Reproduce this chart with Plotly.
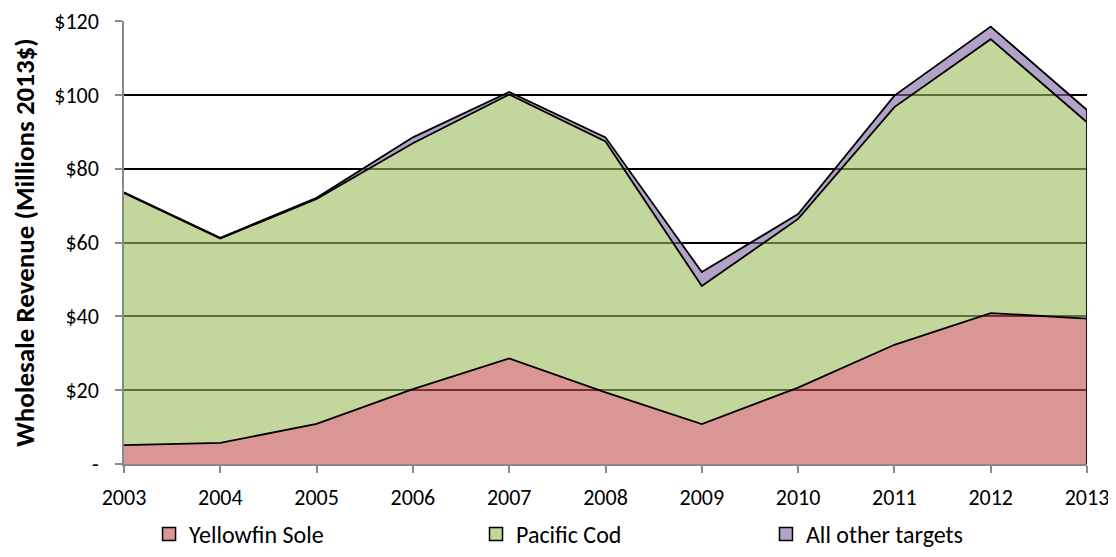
import plotly.graph_objects as go

years = [2003, 2004, 2005, 2006, 2007, 2008, 2009, 2010, 2011, 2012, 2013]
yellowfin_sole = [5.1, 5.7, 10.9, 20.3, 28.6, 19.4, 10.8, 20.7, 32.3, 40.9, 39.4]
pacific_cod = [68.3, 55.4, 60.9, 66.6, 71.5, 68.0, 37.4, 45.7, 64.4, 74.2, 53.2]
all_other = [0.2, 0.2, 0.3, 1.6, 0.7, 1.1, 3.8, 1.3, 3.1, 3.4, 3.3]

y_tickvals = [0, 20, 40, 60, 80, 100, 120]
y_ticktext = ["-", "$20", "$40", "$60", "$80", "$100", "$120"]

series = [
    ("Yellowfin Sole", yellowfin_sole, "rgba(192,80,77,0.6)", "rgb(217,150,148)", "legend"),
    ("Pacific Cod", pacific_cod, "rgba(155,187,89,0.6)", "rgb(195,214,155)", "legend2"),
    ("All other targets", all_other, "rgba(128,100,162,0.6)", "rgb(179,162,199)", "legend3"),
]

FONT = "Carlito, Calibri, Lato, sans-serif"
FS = 22

fig = go.Figure()
for name, vals, col, solid, lg in series:
    fig.add_trace(go.Scatter(
        x=years, y=vals, name=name, stackgroup="one", mode="lines",
        line=dict(color="black", width=1.8), fillcolor=col, showlegend=False,
        hoverinfo="x+y+name",
    ))

# right edge outline of the stacked area at the last year
total_last = yellowfin_sole[-1] + pacific_cod[-1] + all_other[-1]
fig.add_trace(go.Scatter(
    x=[years[-1], years[-1]], y=[0, total_last], mode="lines",
    line=dict(color="black", width=1.8), showlegend=False, hoverinfo="skip",
))

# legend entries (square swatches like the original)
for name, vals, col, solid, lg in series:
    fig.add_trace(go.Scatter(
        x=[None], y=[None], mode="markers", name=name, legend=lg,
        marker=dict(symbol="square", size=13, color=solid,
                    line=dict(color="black", width=1.5)),
    ))

legend_common = dict(
    orientation="h", yanchor="bottom", xanchor="left",
    xref="container", yref="container",
    font=dict(family=FONT, size=24, color="black"),
    bgcolor="rgba(0,0,0,0)", itemwidth=30,
)

# page body has an 8px default margin, so the figure is sized to fit exactly
fig.update_layout(
    width=1108, height=549,
    margin=dict(l=116, r=29, t=13, b=93, autoexpand=False),
    paper_bgcolor="white", plot_bgcolor="white",
    font=dict(family=FONT, size=FS, color="black"),
    legend=dict(x=0.1273, y=0.0, **legend_common),
    legend2=dict(x=0.4224, y=0.0, **legend_common),
    legend3=dict(x=0.6841, y=0.0, **legend_common),
    xaxis=dict(
        range=[2003, 2013], tickmode="array", tickvals=years,
        ticktext=[str(y) for y in years], automargin=False,
        showgrid=False, zeroline=False,
        showline=True, linecolor="#898989", linewidth=1.5,
        ticks="outside", ticklen=7, tickcolor="#898989", tickwidth=1.5,
        tickfont=dict(family=FONT, size=FS, color="black"),
        ticklabelstandoff=6, ticklabeloverflow="allow",
    ),
    yaxis=dict(
        range=[0, 120.02], tickmode="array", tickvals=y_tickvals, ticktext=y_ticktext,
        automargin=False, ticklabeloverflow="allow",
        showgrid=True, gridcolor="black", gridwidth=1.5,
        zeroline=False,
        showline=True, linecolor="#898989", linewidth=1.5,
        ticks="outside", ticklen=7, tickcolor="#898989", tickwidth=1.5,
        tickfont=dict(family=FONT, size=FS, color="black"),
        ticklabelstandoff=12,
        title=dict(text="<b>Wholesale Revenue (Millions 2013$)</b>",
                   font=dict(family=FONT, size=27, color="black"), standoff=20),
    ),
)

fig.write_html("out.html")
